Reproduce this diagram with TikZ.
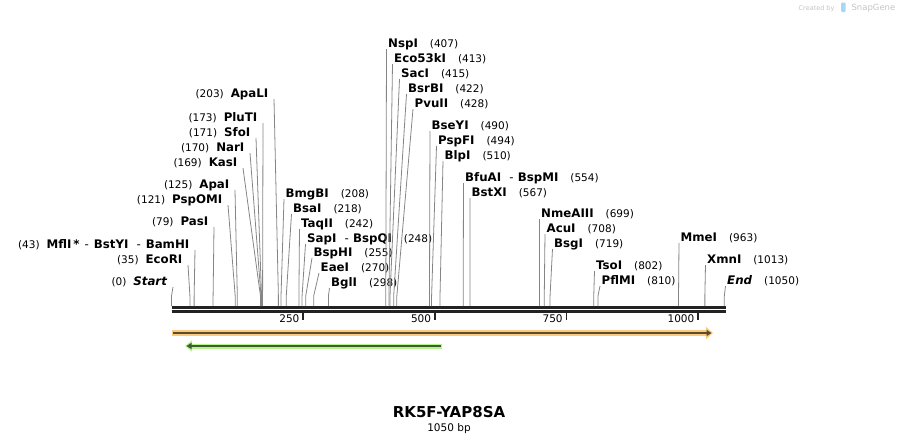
\documentclass[tikz,border=0pt]{standalone}
\usepackage{fontspec}
\setmainfont{DejaVu Sans}
\usetikzlibrary{arrows.meta}
\definecolor{sgcinza}{HTML}{858585}
\definecolor{sgpreto}{HTML}{222222}
\definecolor{sglaranja}{HTML}{FACB7C}
\definecolor{sgmarrom}{HTML}{5E4A33}
\definecolor{sgverde}{HTML}{B6F38C}
\definecolor{sgverdeescuro}{HTML}{3F5B33}
\definecolor{sgmarca}{HTML}{C4C4C4}
\definecolor{sgazul}{HTML}{A6D8F2}
\tikzset{
  sgcorte/.style={draw=sgcinza, line width=0.8pt},
  sgespinha/.style={draw=sgpreto},
  sgrotulo/.style={inner sep=0pt, font=\bfseries\fontsize{11.8}{14}\selectfont},
  sgnumero/.style={inner sep=0pt, font=\fontsize{10.5}{12}\selectfont},
}
\newcommand{\sgnum}[1]{{\mdseries\fontsize{10.5}{12}\selectfont(#1)}}

\begin{document}
\begin{tikzpicture}[x=1pt, y=-1pt]
    \useasboundingbox (0,0) rectangle (898,445);
    % espinha da sequencia (dupla)
    \coordinate (ini) at (171.5,307.3);
    \coordinate (fim) at (725.5,307.3);
    \draw[sgespinha, line width=2.8pt] (ini) -- (fim);
    \draw[sgespinha, line width=2.4pt] ([yshift=-4.2pt]ini) -- ([yshift=-4.2pt]fim);
    % escala
    \foreach \t in {250,500,750,1000} {
        \coordinate (tick\t) at ({171.5+0.5265*\t},312.5);
        \draw[sgespinha, line width=1.6pt] (tick\t) -- ++(0,7);
        \node[sgnumero, anchor=base east] (rot\t) at ({171.5+0.5265*\t-3.5},322.8) {\t};
    }
    % sitios com rotulo a esquerda
    \foreach \bp/\lx/\ly/\nome [count=\i] in {
        0/173/285/{\textit{Start}},
        35/188/263/EcoRI,
        43/195/248/{MflI\,*\hspace{5pt}{\mdseries -}\hspace{5pt}BstYI\hspace{8pt}{\mdseries -}\hspace{5pt}BamHI},
        79/214/225/PasI,
        121/228/203/PspOMI,
        125/235/188/ApaI,
        169/243/166/KasI,
        170/250/151/NarI,
        171/256/136/SfoI,
        173/263/121/PluTI,
        203/274/97/ApaLI} {
        \coordinate (se\i) at ({171.5+0.5265*\bp},306);
        \node[sgrotulo, anchor=base east] (esq\i) at ({\lx-5.5},\ly) {\sgnum{\bp}\hspace{7pt}\nome};
        \draw[sgcorte] (se\i) -- ++(0,-10) -- ([xshift=5.5pt, yshift=-2pt]esq\i.base east);
    }
    % sitios com rotulo a direita
    \foreach \bp/\lx/\ly/\nome [count=\i] in {
        208/284/197/BmgBI,
        218/291.5/212/BsaI,
        242/299.5/227/TaqII,
        248/305.5/242/{SapI~~{\mdseries -}~BspQI},
        255/312/256/BspHI,
        270/319/271/EaeI,
        298/329.5/286/BglI,
        407/386.5/47/NspI,
        413/392.5/62/Eco53kI,
        415/399.5/77/SacI,
        422/406.5/92/BsrBI,
        428/413/107/PvuII,
        490/430/129/BseYI,
        494/436.5/144/PspFI,
        510/443/159/BlpI,
        554/463.5/181/{BfuAI~~{\mdseries -}~BspMI},
        567/470/196/BstXI,
        699/539.5/217/NmeAIII,
        708/545/232/AcuI,
        719/552.5/247/BsgI,
        802/594.5/269/TsoI,
        810/600/284/PflMI,
        963/679/241/MmeI,
        1013/705.5/263/XmnI,
        1050/725.5/284/{\textit{End}}} {
        \coordinate (sd\i) at ({171.5+0.5265*\bp},306);
        \node[sgrotulo, anchor=base west] (dir\i) at ({\lx+1.5},\ly) {\nome\hspace{12pt}\sgnum{\bp}};
        \draw[sgcorte] (sd\i) -- ++(0,-10) -- ([xshift=-1.5pt, yshift=-2pt]dir\i.base west);
    }
    % features
    \coordinate (laranjaA) at (172,333);
    \coordinate (laranjaB) at (713,333);
    \draw[sglaranja, line width=6pt, -{Triangle[length=7pt, width=12pt]}] (laranjaA) -- (laranjaB);
    \draw[sgmarrom, line width=1.8pt, -{Triangle[length=5pt, width=6pt]}] ([xshift=1pt]laranjaA) -- ([xshift=-1.5pt]laranjaB);
    \coordinate (verdeA) at (442,346);
    \coordinate (verdeB) at (185,346);
    \draw[sgverde, line width=5pt, -{Triangle[length=7pt, width=11pt]}] (verdeA) -- (verdeB);
    \draw[sgverdeescuro, line width=1.8pt, -{Triangle[length=5pt, width=6pt]}] ([xshift=-1pt]verdeA) -- ([xshift=1.5pt]verdeB);
    % titulo
    \node[font=\bfseries\fontsize{15}{17}\selectfont] (titulo) at (449,412) {RK5F-YAP8SA};
    \node[font=\fontsize{10.5}{12}\selectfont] (tamanho) at (449,429) {1050 bp};
    % marca d'agua
    \node[anchor=base east, text=sgmarca, font=\fontsize{6.5}{8}\selectfont] (criado) at (838,10) {Created by};
    \fill[sgazul, rounded corners=1pt] (841,2.5) rectangle (845.5,12);
    \node[anchor=base west, text=sgmarca, font=\fontsize{8.5}{10}\selectfont] (snapgene) at (848,10) {SnapGene};
\end{tikzpicture}
\end{document}
